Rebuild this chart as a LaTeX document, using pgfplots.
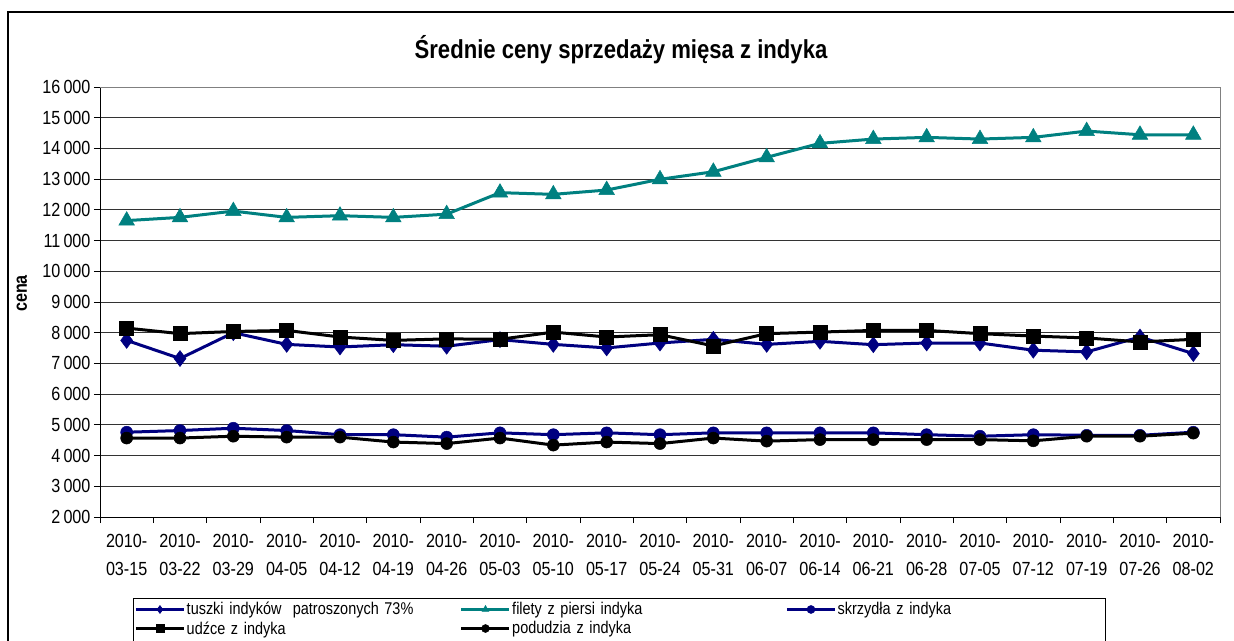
\documentclass[border=0pt]{standalone}
\usepackage{fontspec}
\setmainfont{Liberation Sans}[FakeStretch=0.85]
\usepackage{pgfplots}
\pgfplotsset{compat=1.18}
\definecolor{navyc}{RGB}{0,0,128}
\definecolor{tealc}{RGB}{0,128,128}
\begin{document}
\begin{tikzpicture}[x=1pt,y=1pt]
\useasboundingbox (0,0) rectangle (1234,640);
\begin{scope}
\clip (0,0) rectangle (1234,640);
\draw[line width=1.3pt] (8,-10) -- (8,628) -- (1250,628);
\draw[line width=0.8pt] (133,-10) -- (133,42) -- (1105,42) -- (1105,-10);
\end{scope}
\node[font=\fontsize{26}{30}\selectfont\bfseries] at (621,590) {Średnie ceny sprzedaży mięsa z indyka};
\begin{axis}[
  at={(100pt,123pt)}, anchor=south west,
  width=1120pt, height=430pt, scale only axis,
  xmin=-0.5, xmax=20.5, ymin=2000, ymax=16000,
  ytick distance=1000,
  scaled y ticks=false,
  yticklabel={\pgfmathprintnumber[fixed, 1000 sep={\,}, assume math mode=true]{\tick}},
  xtick={0,...,20},
  xticklabels={{2010-\\03-15},{2010-\\03-22},{2010-\\03-29},{2010-\\04-05},{2010-\\04-12},{2010-\\04-19},{2010-\\04-26},{2010-\\05-03},{2010-\\05-10},{2010-\\05-17},{2010-\\05-24},{2010-\\05-31},{2010-\\06-07},{2010-\\06-14},{2010-\\06-21},{2010-\\06-28},{2010-\\07-05},{2010-\\07-12},{2010-\\07-19},{2010-\\07-26},{2010-\\08-02}},
  minor xtick={-0.5,0.5,...,20.5},
  major x tick style={draw=none},
  minor tick length=6pt, major tick length=6pt,
  tick align=outside,
  axis x line*=bottom, axis y line*=left,
  axis line style={black, line width=0.8pt},
  every tick/.style={black, line width=0.8pt},
  ymajorgrids,
  grid style={black!80, line width=0.8pt},
  xticklabel style={align=center, font=\fontsize{19}{28}\selectfont, yshift=-8pt},
  yticklabel style={font=\fontsize{19}{20}\selectfont},
  ylabel={\textbf{cena}},
  ylabel style={font=\fontsize{19}{20}\selectfont, at={(axis description cs:-0.062,0.52)}},
  legend columns=3,
  legend cell align=left,
  legend style={draw=none, fill=none, at={(0.0295,-0.196)}, anchor=north west,
    font=\fontsize{17}{17}\selectfont, inner sep=1pt, row sep=5pt,
    nodes={text width=272pt, inner xsep=1pt, inner ysep=0pt},
    /tikz/every even column/.append style={column sep=0pt}},
  legend image code/.code={\draw[mark repeat=2,mark phase=2, mark size=4pt, line width=3.5pt] plot coordinates {(0pt,0pt) (24pt,0pt) (48pt,0pt)};},
  after end axis/.code={\draw[gray, line width=0.8pt] (rel axis cs:0,1) -- (rel axis cs:1,1) -- (rel axis cs:1,0);},
  every axis plot/.append style={line width=3pt},
]
\addplot[navyc, mark=diamond*, mark size=8pt, mark options={solid, line width=0.5pt}] coordinates {
(0,7750)(1,7160)(2,8000)(3,7620)(4,7535)(5,7610)(6,7560)(7,7775)(8,7620)(9,7505)(10,7665)(11,7785)(12,7620)(13,7720)(14,7610)(15,7665)(16,7665)(17,7430)(18,7375)(19,7860)(20,7320)};
\addlegendentry{tuszki indyków\ \ patroszonych 73\%}
\addplot[tealc, mark=triangle*, mark size=9pt, mark options={solid, line width=0.5pt}] coordinates {
(0,11650)(1,11755)(2,11960)(3,11755)(4,11810)(5,11755)(6,11860)(7,12560)(8,12505)(9,12645)(10,12995)(11,13240)(12,13710)(13,14165)(14,14305)(15,14360)(16,14305)(17,14360)(18,14565)(19,14445)(20,14445)};
\addlegendentry{filety z piersi indyka}
\addplot[navyc, mark=*, mark size=6pt, mark options={solid, line width=0.5pt}] coordinates {
(0,4760)(1,4815)(2,4890)(3,4815)(4,4680)(5,4680)(6,4600)(7,4740)(8,4680)(9,4740)(10,4680)(11,4740)(12,4740)(13,4740)(14,4740)(15,4680)(16,4630)(17,4680)(18,4660)(19,4660)(20,4760)};
\addlegendentry{skrzydła z indyka}
\addplot[black, mark=square*, mark size=7pt, mark options={solid, line width=0.5pt}] coordinates {
(0,8150)(1,7970)(2,8040)(3,8075)(4,7860)(5,7750)(6,7800)(7,7785)(8,8020)(9,7860)(10,7935)(11,7570)(12,7970)(13,8020)(14,8075)(15,8075)(16,7970)(17,7890)(18,7830)(19,7700)(20,7785)};
\addlegendentry{udźce z indyka}
\addplot[black, mark=*, mark size=6pt, mark options={solid, line width=0.5pt}] coordinates {
(0,4570)(1,4570)(2,4630)(3,4600)(4,4600)(5,4440)(6,4390)(7,4570)(8,4340)(9,4440)(10,4390)(11,4570)(12,4470)(13,4520)(14,4520)(15,4520)(16,4520)(17,4480)(18,4630)(19,4630)(20,4730)};
\addlegendentry{podudzia z indyka}
\end{axis}
\end{tikzpicture}
\end{document}
